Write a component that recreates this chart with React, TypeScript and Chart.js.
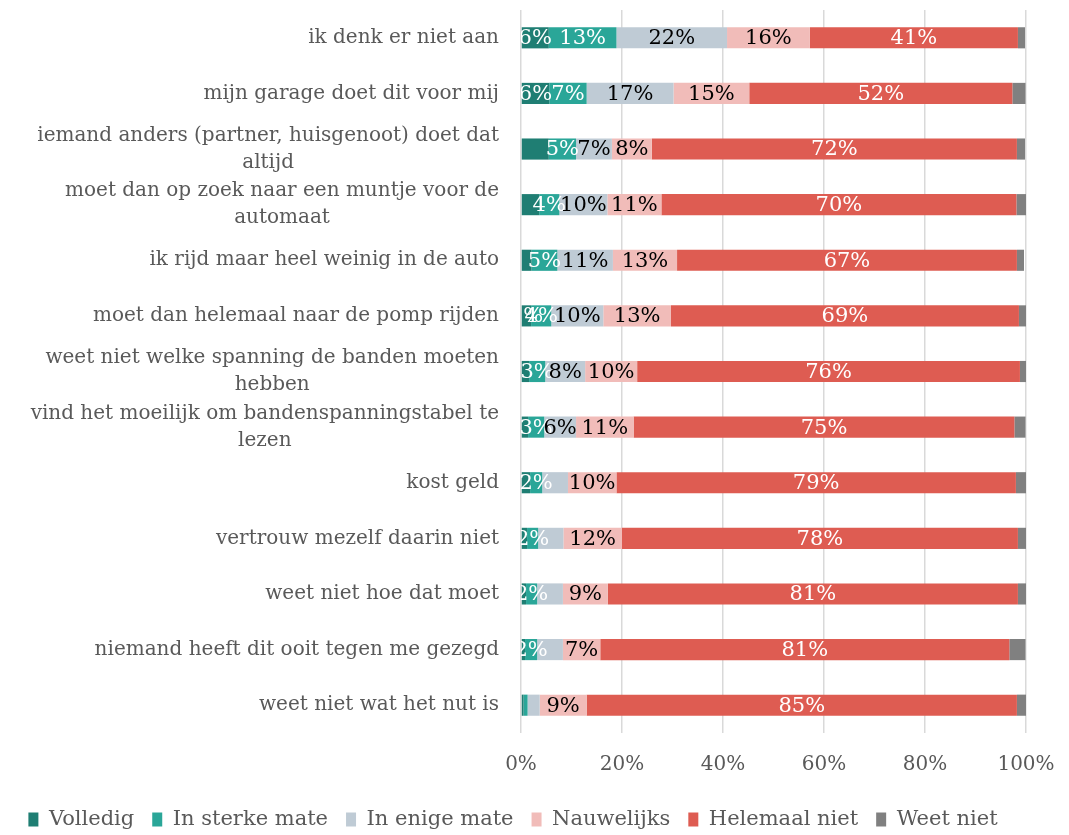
import React, { useEffect, useRef } from "react";
import { Chart, registerables } from "chart.js";

Chart.register(...registerables);

const categories: string[][] = [
  ["ik denk er niet aan"],
  ["mijn garage doet dit voor mij"],
  ["iemand anders (partner, huisgenoot) doet dat", "altijd"],
  ["moet dan op zoek naar een muntje voor de", "automaat"],
  ["ik rijd maar heel weinig in de auto"],
  ["moet dan helemaal naar de pomp rijden"],
  ["weet niet welke spanning de banden moeten", "hebben"],
  ["vind het moeilijk om bandenspanningstabel te", "lezen"],
  ["kost geld"],
  ["vertrouw mezelf daarin niet"],
  ["weet niet hoe dat moet"],
  ["niemand heeft dit ooit tegen me gezegd"],
  ["weet niet wat het nut is"],
];

const seriesNames = ["Volledig", "In sterke mate", "In enige mate", "Nauwelijks", "Helemaal niet", "Weet niet"];

const volledig = [5.5, 5.6, 5.5, 3.6, 2.1, 2.0, 1.6, 1.4, 1.8, 1.2, 1.0, 0.8, 0.5];
const sterkeMate = [13.4, 7.4, 5.4, 4.0, 5.1, 4.0, 3.2, 3.2, 2.4, 2.2, 2.2, 2.4, 0.8];
const enigeMate = [21.9, 17.2, 7.1, 9.5, 11.0, 10.3, 7.9, 6.3, 5.1, 5.0, 5.1, 5.1, 2.4];
const nauwelijks = [16.4, 15.0, 7.9, 10.7, 12.7, 13.4, 10.3, 11.4, 9.6, 11.6, 8.9, 7.4, 9.3];
const helemaalNiet = [41.2, 52.1, 72.3, 70.3, 67.3, 68.9, 75.8, 75.4, 79.1, 78.4, 81.2, 81.0, 85.2];
const weetNiet = [1.4, 2.6, 1.6, 1.9, 1.4, 1.4, 1.2, 2.2, 2.0, 1.6, 1.6, 3.2, 1.8];

// which data labels are shown in the reference
const showVolledig = [1, 1, 0, 0, 0, 1, 0, 0, 0, 0, 0, 0, 0];
const showSterke = [1, 1, 1, 1, 1, 1, 1, 1, 1, 1, 1, 1, 0];
const showEnige = [1, 1, 1, 1, 1, 1, 1, 1, 0, 0, 0, 0, 0];
const showNauwelijks = [1, 1, 1, 1, 1, 1, 1, 1, 1, 1, 1, 1, 1];
const showHelemaal = [1, 1, 1, 1, 1, 1, 1, 1, 1, 1, 1, 1, 1];
const showWeet = [0, 0, 0, 0, 0, 0, 0, 0, 0, 0, 0, 0, 0];

const xTicks = [0, 20, 40, 60, 80, 100];

const colors = ["#1f7e73", "#2aa698", "#bfcbd5", "#f1bcb9", "#de5c52", "#808080"];
const labelColors = ["#ffffff", "#ffffff", "#000000", "#000000", "#ffffff", "#ffffff"];

const FONT = "'DejaVu Serif', serif";

export default function App() {
  const ref = useRef<HTMLCanvasElement | null>(null);

  useEffect(() => {
    if (!ref.current) return;
    const values = [volledig, sterkeMate, enigeMate, nauwelijks, helemaalNiet, weetNiet];
    const shows = [showVolledig, showSterke, showEnige, showNauwelijks, showHelemaal, showWeet];

    const dataLabelPlugin = {
      id: "dataLabels",
      afterDatasetsDraw(chart: any) {
        const { ctx, chartArea } = chart;
        ctx.save();
        ctx.beginPath();
        ctx.rect(chartArea.left, chartArea.top, chartArea.right - chartArea.left, chartArea.bottom - chartArea.top);
        ctx.clip();
        ctx.font = `21px ${FONT}`;
        ctx.textAlign = "center";
        ctx.textBaseline = "middle";
        chart.data.datasets.forEach((ds: any, i: number) => {
          const meta = chart.getDatasetMeta(i);
          meta.data.forEach((el: any, j: number) => {
            if (!shows[i][j]) return;
            const v = ds.data[j];
            const cx = (el.x + el.base) / 2;
            ctx.fillStyle = labelColors[i];
            ctx.fillText(Math.round(v) + "%", cx, el.y + 1);
          });
        });
        ctx.restore();
      },
    };

    const catLabelPlugin = {
      id: "catLabels",
      afterDraw(chart: any) {
        const { ctx, chartArea } = chart;
        const yScale = chart.scales.y;
        ctx.save();
        ctx.font = `20px ${FONT}`;
        ctx.fillStyle = "#595959";
        ctx.textAlign = "center";
        ctx.textBaseline = "middle";
        const right = chartArea.left - 22;
        const lh = 27;
        categories.forEach((lines, idx) => {
          const y = yScale.getPixelForValue(idx);
          const maxW = Math.max(...lines.map((l) => ctx.measureText(l).width));
          const cx = right - maxW / 2;
          const y0 = y - ((lines.length - 1) * lh) / 2;
          lines.forEach((l, k) => ctx.fillText(l, cx, y0 + k * lh));
        });
        ctx.restore();
      },
    };

    const chart = new Chart(ref.current, {
      type: "bar",
      data: {
        labels: categories.map((c) => c.join(" ")),
        datasets: values.map((d, i) => ({
          label: seriesNames[i],
          data: d,
          backgroundColor: colors[i],
          borderWidth: 0,
          barPercentage: 0.38,
          categoryPercentage: 1,
        })),
      },
      options: {
        indexAxis: "y",
        animation: false,
        responsive: false,
        maintainAspectRatio: false,
        layout: { padding: { left: 0, right: 43, top: 10, bottom: -5 } },
        scales: {
          x: {
            stacked: true,
            min: 0,
            max: 100,
            afterBuildTicks: (scale: any) => {
              scale.ticks = xTicks.map((v) => ({ value: v }));
            },
            afterFit: (scale: any) => {
              scale.height = 58;
              scale.paddingRight = 0;
              scale.paddingLeft = 0;
            },
            ticks: {
              callback: (v: any) => v + "%",
              font: { family: FONT, size: 20 },
              color: "#595959",
              padding: 20,
              maxRotation: 0,
            },
            grid: { color: "#d9d9d9", lineWidth: 1.5, drawTicks: false },
            border: { display: false },
          },
          y: {
            stacked: true,
            display: true,
            ticks: { display: false },
            grid: { display: false },
            border: { display: false },
            afterFit: (scale: any) => {
              scale.width = 521;
            },
          },
        },
        plugins: {
          legend: {
            position: "bottom",
            labels: {
              boxWidth: 10,
              boxHeight: 14,
              font: { family: FONT, size: 21 },
              color: "#595959",
              padding: 18,
            },
          },
          tooltip: { enabled: false },
        },
      },
      plugins: [dataLabelPlugin, catLabelPlugin],
    });
    return () => chart.destroy();
  }, []);

  return (
    <div style={{ position: "absolute", left: 0, top: 0, width: 1069, height: 835, background: "#fff" }}>
      <canvas ref={ref} width={1069} height={835} style={{ display: "block" }} />
    </div>
  );
}
